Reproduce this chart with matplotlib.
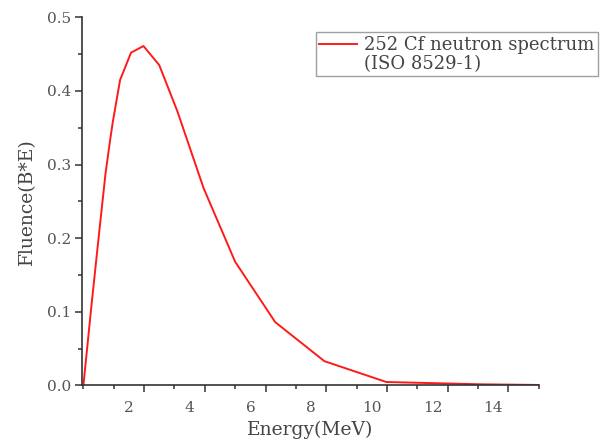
import matplotlib
matplotlib.use('Agg')
import matplotlib.pyplot as plt
from matplotlib.lines import Line2D
from matplotlib.ticker import MultipleLocator
from matplotlib.transforms import ScaledTranslation

# Cf-252 neutron spectrum (ISO 8529-1), fluence in lethargy form
energy = [0.0, 0.27, 0.50, 0.73, 0.88, 0.97, 1.21, 1.57, 1.98,
          2.50, 3.10, 3.96, 5.00, 6.32, 7.94, 9.98, 13.1, 15.0]
fluence = [0.0, 0.110, 0.200, 0.288, 0.333, 0.358, 0.415, 0.452, 0.461,
           0.435, 0.372, 0.268, 0.168, 0.086, 0.033, 0.0047, 0.0016, 0.0007]

xticks = [2, 4, 6, 8, 10, 12, 14]
yticks = [0.0, 0.1, 0.2, 0.3, 0.4, 0.5]

text_color = '#444444'
axis_color = '#333333'
plt.rcParams['font.family'] = 'DejaVu Serif'

fig = plt.figure(figsize=(6.03, 4.46), dpi=100)
ax = fig.add_axes([0.1365, 0.1357, 0.7569, 0.8255])

line, = ax.plot(energy, fluence, color='#ff1a1a', lw=1.4)

ax.set_xlim(-0.035, 15.0)
ax.set_ylim(0.0, 0.5)
ax.set_xticks(xticks)
ax.set_yticks(yticks)
ax.set_yticklabels([f'{v:.1f}' for v in yticks])
ax.xaxis.set_minor_locator(MultipleLocator(1))
ax.yaxis.set_minor_locator(MultipleLocator(0.05))

for side in ['top', 'right']:
    ax.spines[side].set_visible(False)
for side in ['left', 'bottom']:
    ax.spines[side].set_linewidth(1.2)
    ax.spines[side].set_color(axis_color)

ax.tick_params(which='major', direction='out', length=5, width=1.1, color=axis_color,
               labelsize=11, labelcolor='#555555')
ax.tick_params(which='minor', direction='out', length=3, width=1.1, color=axis_color)
ax.tick_params(axis='x', pad=6)
ax.tick_params(axis='y', pad=3)

# x tick labels sit a little left of their ticks
shift = ScaledTranslation(-0.15, 0, fig.dpi_scale_trans)
for lbl in ax.get_xticklabels():
    lbl.set_transform(lbl.get_transform() + shift)

ax.set_xlabel('Energy(MeV)', fontsize=13.5, color=text_color, labelpad=4)
ax.set_ylabel('Fluence(B*E)', fontsize=13.5, color=text_color, labelpad=8)

blank = Line2D([], [], linestyle='none')
leg = ax.legend([line, blank], ['252 Cf neutron spectrum', '(ISO 8529-1)'],
                loc='upper left', bbox_to_anchor=(0.5235, 0.9276),
                bbox_transform=fig.transFigure, fontsize=13, frameon=True,
                fancybox=False, borderpad=0.2, borderaxespad=0,
                handlelength=2.1, handletextpad=0.35, labelspacing=0.05)
leg.get_frame().set_edgecolor('#888888')
leg.get_frame().set_linewidth(1.0)
for t in leg.get_texts():
    t.set_color(text_color)

fig.savefig('out.png', dpi=100)
